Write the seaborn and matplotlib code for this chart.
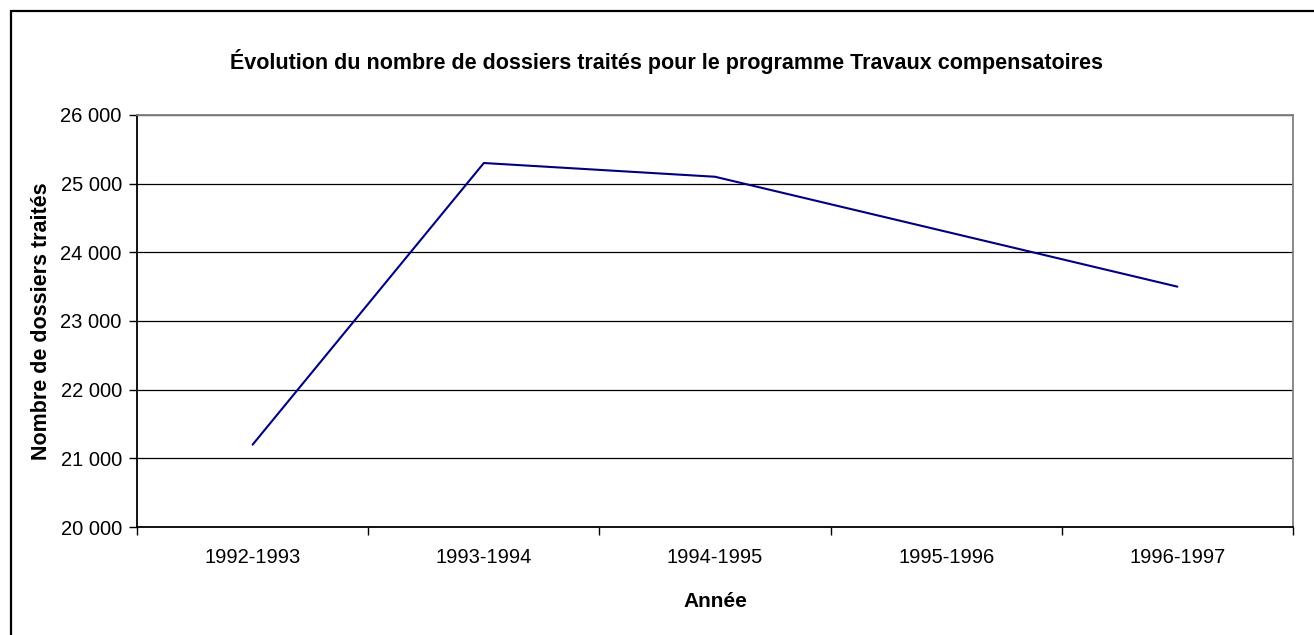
import pandas as pd
import seaborn as sns
import matplotlib.pyplot as plt
from matplotlib.patches import Rectangle
from matplotlib.ticker import FuncFormatter, FixedLocator

# Données
annees = ["1992-1993", "1993-1994", "1994-1995", "1995-1996", "1996-1997"]
dossiers = [21200, 25300, 25100, 24300, 23500]

df = pd.DataFrame({"Année": annees, "Dossiers": dossiers})
df["pos"] = range(len(annees))

sns.set_style("white")
plt.rcParams['font.family'] = ['Liberation Sans', 'DejaVu Sans']
plt.rcParams['text.color'] = 'black'
plt.rcParams['axes.labelcolor'] = 'black'
plt.rcParams['xtick.color'] = 'black'
plt.rcParams['ytick.color'] = 'black'

fig = plt.figure(figsize=(13.14, 6.35), dpi=100)
ax = fig.add_axes([0.1043, 0.170, 0.8797, 0.649])

# Cadre autour de la figure
fig.patches.append(Rectangle((11 / 1314, -0.1), 1.2, 1.1 - 11 / 635,
                             transform=fig.transFigure, fill=False,
                             edgecolor="black", linewidth=1.6))

sns.lineplot(data=df, x="pos", y="Dossiers", ax=ax, color="#000080", linewidth=1.5)

ax.set_xlim(-0.5, len(annees) - 0.5)
ax.set_ylim(20000, 26000)
ax.set_yticks(range(20000, 26001, 1000))
ax.yaxis.set_major_formatter(FuncFormatter(lambda v, p: f"{int(v):,}".replace(",", " ")))
ax.yaxis.grid(True, color="black", linewidth=0.9)
ax.set_axisbelow(True)

# Graduations entre les catégories, étiquettes au centre
ax.xaxis.set_major_locator(FixedLocator([i - 0.5 for i in range(len(annees) + 1)]))
ax.xaxis.set_major_formatter(FuncFormatter(lambda v, p: ""))
ax.set_xticks(range(len(annees)), minor=True)
ax.set_xticklabels(annees, minor=True)
ax.tick_params(axis="x", which="major", direction="out", length=6, width=1, bottom=True)
ax.tick_params(axis="x", which="minor", length=0, pad=15, labelsize=14.5)
ax.tick_params(axis="y", direction="out", length=6, width=1, left=True, labelsize=14.5, pad=5)

for s in ["left", "bottom"]:
    ax.spines[s].set_color("black")
    ax.spines[s].set_linewidth(1.3)
for s in ["top", "right"]:
    ax.spines[s].set_color("#808080")
    ax.spines[s].set_linewidth(1.3)

ax.set_xlabel("Année", fontsize=15, fontweight="bold", labelpad=18)
ax.set_ylabel("Nombre de dossiers traités", fontsize=15.5, fontweight="bold", labelpad=6)
fig.text(0.5075, 1 - 62 / 635, "Évolution du nombre de dossiers traités pour le programme Travaux compensatoires",
         ha="center", va="center", fontsize=15.5, fontweight="bold")

plt.savefig("out.png", dpi=100)
